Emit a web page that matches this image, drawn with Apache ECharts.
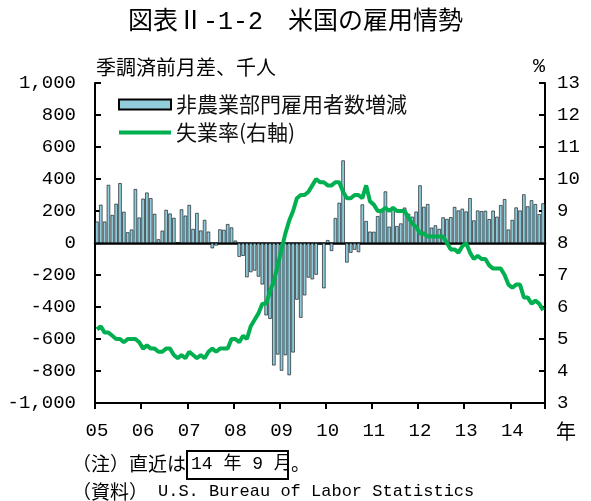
<!DOCTYPE html>
<html>
<head>
<meta charset="utf-8">
<script src="https://cdn.jsdelivr.net/npm/echarts@6/dist/echarts.min.js"></script>
<style>
html, body { margin: 0; padding: 0; background: #fff; }
#chart { width: 591px; height: 501px; }
</style>
</head>
<body>
<div id="chart"></div>
<script>
// 2005年1月～2014年9月（月次）
var years = ['05', '06', '07', '08', '09', '10', '11', '12', '13', '14'];

// 非農業部門雇用者数増減（季調済前月差、千人）
var payroll = [
    134, 239, 134, 363, 175, 245, 374, 195, 67, 84, 337, 159,
    277, 315, 280, 182, 23, 77, 207, 184, 157, 2, 210, 171,
    238, 88, 188, 78, 144, 71, -33, -16, 85, 82, 118, 97,
    15, -86, -80, -214, -182, -172, -210, -259, -452, -474, -765, -697,
    -798, -701, -826, -684, -354, -467, -327, -216, -227, -198, -6, -283,
    18, -50, 156, 251, 516, -122, -61, -42, -57, 241, 137, 71,
    70, 168, 212, 322, 102, 217, 106, 122, 221, 183, 164, 196,
    360, 226, 243, 96, 110, 88, 160, 150, 161, 225, 203, 214,
    197, 280, 141, 203, 199, 201, 149, 202, 164, 237, 274, 84,
    144, 222, 203, 304, 229, 267, 243, 180, 248
];

// 失業率（%）
var unemp = [
    5.3, 5.4, 5.2, 5.2, 5.1, 5.0, 5.0, 4.9, 5.0, 5.0, 5.0, 4.9,
    4.7, 4.8, 4.7, 4.7, 4.6, 4.6, 4.7, 4.7, 4.5, 4.4, 4.5, 4.4,
    4.6, 4.5, 4.4, 4.5, 4.4, 4.6, 4.7, 4.6, 4.7, 4.7, 4.7, 5.0,
    5.0, 4.9, 5.1, 5.0, 5.4, 5.6, 5.8, 6.1, 6.1, 6.5, 6.8, 7.3,
    7.8, 8.3, 8.7, 9.0, 9.4, 9.5, 9.5, 9.6, 9.8, 10.0, 9.9, 9.9,
    9.8, 9.8, 9.9, 9.9, 9.6, 9.4, 9.4, 9.5, 9.5, 9.4, 9.8, 9.3,
    9.2, 9.0, 9.0, 9.1, 9.0, 9.1, 9.0, 9.0, 9.0, 8.8, 8.6, 8.5,
    8.3, 8.3, 8.2, 8.2, 8.2, 8.2, 8.2, 8.0, 7.8, 7.8, 7.7, 7.9,
    8.0, 7.7, 7.5, 7.6, 7.5, 7.5, 7.3, 7.2, 7.2, 7.2, 7.0, 6.7,
    6.6, 6.7, 6.7, 6.3, 6.3, 6.1, 6.2, 6.1, 5.9
];

var months = [];
for (var i = 0; i < payroll.length; i++) {
    months.push(years[Math.floor(i / 12)] + '/' + (i % 12 + 1));
}

var jp = "'Noto Sans CJK JP'";
var mono = "'Liberation Mono', 'Noto Sans CJK JP'";

function comma(v) {
    var s = String(Math.abs(v));
    if (s.length > 3) s = s.slice(0, s.length - 3) + ',' + s.slice(s.length - 3);
    return (v < 0 ? '-' : '') + s;
}

var myChart = echarts.init(document.getElementById('chart'));
var option = {
    backgroundColor: '#fff',
    animation: false,
    title: {
        text: '図表Ⅱ-1-2　米国の雇用情勢',
        left: 'center',
        top: 5,
        textStyle: { fontFamily: mono, fontSize: 25, fontWeight: 'normal', color: '#000' }
    },
    legend: {
        orient: 'vertical',
        left: 112,
        top: 89,
        itemWidth: 52,
        itemHeight: 10,
        itemGap: 7,
        textStyle: { fontFamily: jp, fontSize: 21, color: '#111' },
        data: [
            { name: '非農業部門雇用者数増減', icon: 'rect', itemStyle: { color: '#92CDDC', borderColor: '#000', borderWidth: 2 } },
            { name: '失業率(右軸)', itemStyle: { opacity: 0 }, lineStyle: { color: '#00B050', width: 4, opacity: 1 } }
        ]
    },
    grid: { left: 95, right: 46, top: 83, bottom: 98 },
    xAxis: [
        {
            type: 'category',
            data: months,
            position: 'bottom',
            axisLine: { onZero: false, lineStyle: { color: '#000', width: 2 } },
            axisTick: {
                show: true,
                length: 6,
                lineStyle: { color: '#000', width: 2 },
                interval: function (idx) { return idx % 12 === 0; }
            },
            axisLabel: {
                interval: function (idx) { return idx % 12 === 0; },
                formatter: function (v) { return v.split('/')[0]; },
                margin: 18,
                fontFamily: mono,
                fontSize: 19,
                color: '#000'
            },
            splitLine: { show: false }
        },
        {
            type: 'category',
            data: months,
            position: 'bottom',
            axisLine: { onZero: true, lineStyle: { color: '#000', width: 2.5 } },
            axisTick: { show: false },
            axisLabel: { show: false },
            splitLine: { show: false }
        }
    ],
    yAxis: [
        {
            type: 'value',
            min: -1000,
            max: 1000,
            interval: 200,
            name: '季調済前月差、千人',
            nameLocation: 'end',
            nameGap: 6,
            nameTextStyle: { fontFamily: jp, fontSize: 20, color: '#000', align: 'left', padding: [0, 0, 0, 1] },
            axisLine: { show: true, lineStyle: { color: '#000', width: 2 } },
            axisTick: { show: true, inside: true, length: 6, lineStyle: { color: '#000', width: 2 } },
            axisLabel: { formatter: comma, margin: 19, fontFamily: mono, fontSize: 19, color: '#000' },
            splitLine: { show: false }
        },
        {
            type: 'value',
            min: 3,
            max: 13,
            interval: 1,
            position: 'right',
            name: '%',
            nameLocation: 'end',
            nameGap: 6,
            nameTextStyle: { fontFamily: mono, fontSize: 20, color: '#000', align: 'right' },
            axisLine: { show: true, lineStyle: { color: '#000', width: 2 } },
            axisTick: { show: true, inside: true, length: 6, lineStyle: { color: '#000', width: 2 } },
            axisLabel: { margin: 12, fontFamily: mono, fontSize: 19, color: '#000' },
            splitLine: { show: false }
        }
    ],
    series: [
        {
            name: '非農業部門雇用者数増減',
            type: 'bar',
            xAxisIndex: 0,
            yAxisIndex: 0,
            data: payroll,
            barCategoryGap: '12%',
            itemStyle: { color: '#8FCCDD', borderColor: '#000', borderWidth: 0.6 }
        },
        {
            name: '失業率(右軸)',
            type: 'line',
            xAxisIndex: 0,
            yAxisIndex: 1,
            data: unemp,
            symbol: 'none',
            z: 5,
            lineStyle: { color: '#00B050', width: 4 },
            itemStyle: { color: '#00B050' }
        }
    ],
    graphic: [
        { type: 'text', left: 556, top: 421, style: { text: '年', fontFamily: jp, fontSize: 20, fill: '#000' } },
        { type: 'text', left: 72, top: 454, style: { text: '（注）直近は', fontFamily: jp, fontSize: 19, fill: '#000' } },
        { type: 'rect', shape: { x: 187, y: 451, width: 101, height: 28 }, style: { fill: 'none', stroke: '#000', lineWidth: 2 } },
        { type: 'text', left: 191, top: 455, style: { text: '14 年 9 月', fontFamily: mono, fontSize: 18, fill: '#000' } },
        { type: 'text', left: 291, top: 454, style: { text: '。', fontFamily: jp, fontSize: 19, fill: '#000' } },
        { type: 'text', left: 72, top: 482, style: { text: '（資料）', fontFamily: jp, fontSize: 19, fill: '#000' } },
        { type: 'text', left: 158, top: 483, style: { text: 'U.S. Bureau of Labor Statistics', fontFamily: mono, fontSize: 17, fill: '#000' } }
    ]
};
myChart.setOption(option);
</script>
</body>
</html>
